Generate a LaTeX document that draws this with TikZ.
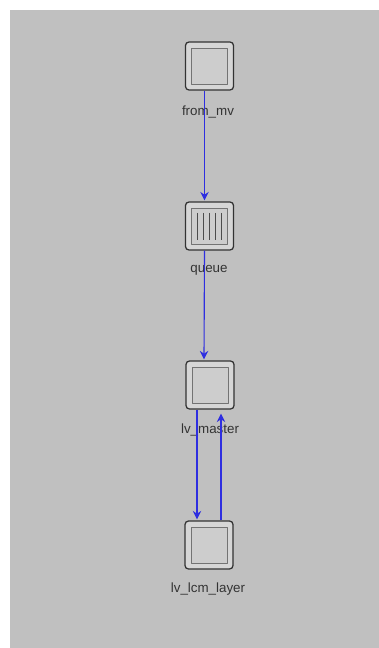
\documentclass[tikz,border=0pt]{standalone}
\usepackage{fontspec}
\setmainfont{Liberation Sans}
\usetikzlibrary{calc,arrows.meta}
\definecolor{bggray}{HTML}{C0C0C0}
\definecolor{linkblue}{HTML}{2E2EE0}
\definecolor{boxfill}{HTML}{D6D6D6}
\definecolor{innerfill}{HTML}{CDCDCD}
\tikzset{
	blk/.style={draw=black!80, line width=0.9pt, rounded corners=2.5pt, fill=boxfill,
		minimum size=1.2cm, inner sep=0pt,
		path picture={\draw[black!55, line width=0.6pt, fill=innerfill, sharp corners]
			([shift={(4.3pt,4.3pt)}]path picture bounding box.south west) rectangle
			([shift={(-4.3pt,-4.3pt)}]path picture bounding box.north east);}},
	lbl/.style={text=black!80, font=\fontsize{9.5}{10}\selectfont, inner sep=0pt},
	link/.style={draw=linkblue, line width=0.8pt, -{Stealth[length=6pt,width=6pt]}}
}
\begin{document}
\begin{tikzpicture}[x=0.025cm, y=-0.025cm, line join=round]
	% fond
	\fill[white] (0,0) rectangle (379,648);
	\fill[bggray] (10,10) rectangle (379,648);
	\useasboundingbox (0,0) rectangle (379,648);
	
	\node[blk] (fromMv) at (209.5,66) {};
	\node[blk] (queue) at (209.5,226) {};
	\node[blk] (lvMaster) at (210,385) {};
	\node[blk] (lvLcm) at (209,545) {};
	
	% barres de la file
	\foreach \dx in {-12,-6,0,6,12}
		\draw[black!70, line width=1pt] ($(queue.center)+(\dx,-13)$) -- ($(queue.center)+(\dx,14)$);
	
	\node[lbl] (fromMvTxt) at (208,112) {from\_mv};
	\node[lbl] (queueTxt) at (209,270) {queue};
	\node[lbl] (lvMasterTxt) at (210,430) {lv\_master};
	\node[lbl] (lvLcmTxt) at (208,589) {lv\_lcm\_layer};
	
	% liaisons
	\draw[link] ($(fromMv.south)+(-5,0)$) -- ($(queue.north)+(-5,-1)$);
	\draw[link] ($(queue.south)+(-5,0)$) -- ($(lvMaster.north)+(-6,-1)$);
	\draw[link] ($(lvMaster.south)+(-13,0)$) -- ($(lvLcm.north)+(-12,-1)$);
	\draw[link] ($(lvLcm.north)+(12,0)$) -- ($(lvMaster.south)+(11,4)$);
\end{tikzpicture}
\end{document}
